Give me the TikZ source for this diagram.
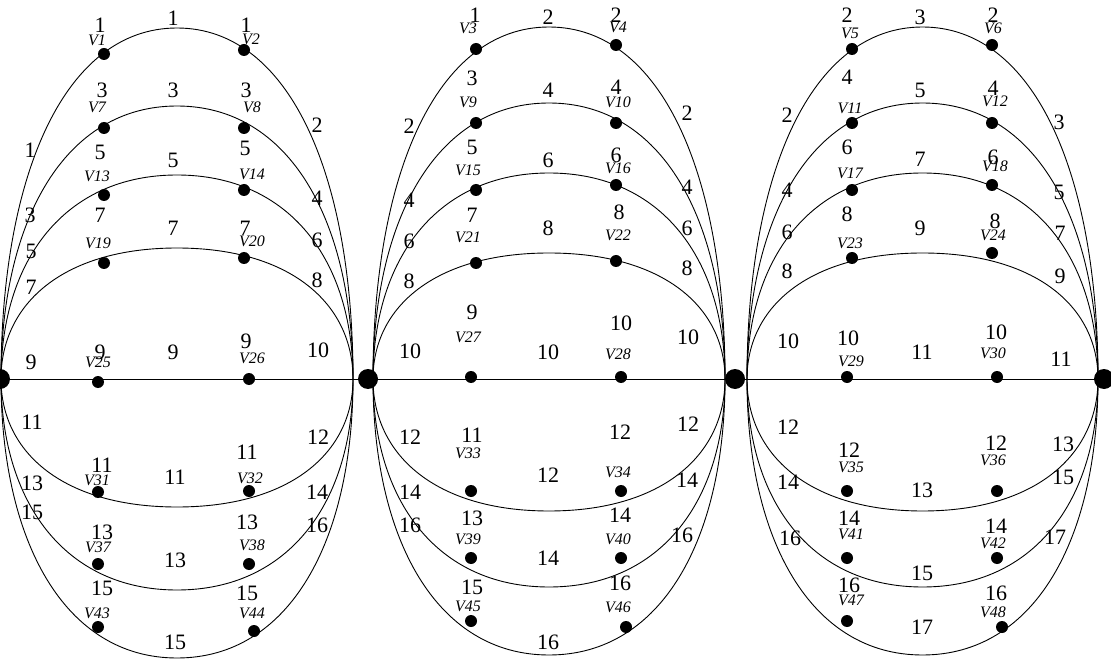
\documentclass[tikz,border=0pt]{standalone}
\usepackage{fontspec}
\setmainfont{Liberation Serif}
\usetikzlibrary{backgrounds}
\newcounter{lbl}
\newcommand{\nl}[3]{\stepcounter{lbl}\node[num] (t\thelbl) at (#1,#2) {#3};}
\newcommand{\vt}[3]{\node[vlab] (lab#3) at (#1,#2) {V#3};}
\newcommand{\vd}[3]{\node[vdot] (V#3) at (#1,#2) {};}
\newcommand{\bowarc}[4]{%
  \pgfmathsetmacro\bwCx{(#2+#3)/2}%
  \pgfmathsetmacro\bwA{(#3-#2)/2}%
  \pgfmathsetmacro\bwH{#4-379}%
  \coordinate (#1L) at (#2,379);%
  \coordinate (#1T) at (\bwCx,#4);%
  \coordinate (#1R) at (#3,379);%
  \draw[edge] (#1L) .. controls +(0,0.58*\bwH) and +(-0.64*\bwA,0) .. (#1T)
     .. controls +(0.64*\bwA,0) and +(0,0.58*\bwH) .. (#1R);}
\tikzset{
  edge/.style={line width=0.9pt},
  hub/.style={circle, fill=black, inner sep=0pt, minimum size=20pt},
  vdot/.style={circle, fill=black, inner sep=0pt, minimum size=12pt},
  num/.style={font=\fontsize{22}{22}\selectfont, inner sep=0pt},
  vlab/.style={font=\itshape\fontsize{16}{16}\selectfont, inner sep=0pt}
}
\begin{document}
\begin{tikzpicture}[x=1pt,y=-1pt]
\useasboundingbox (0,0) rectangle (1111,660);
% hubs
\node[hub] (h0) at (0,379) {};
\node[hub] (h1) at (368,379) {};
\node[hub] (h2) at (735,379) {};
\node[hub] (h3) at (1104,379) {};
% vertices family 1
\vd{104}{54}{1} \vd{244}{50}{2} \vd{104}{128}{7} \vd{244}{128}{8}
\vd{104}{195}{13} \vd{244}{190}{14} \vd{104}{263}{19} \vd{244}{258}{20}
\vd{98}{382}{25} \vd{249}{379}{26} \vd{98}{492}{31} \vd{249}{491}{32}
\vd{98}{564}{37} \vd{249}{564}{38} \vd{98}{627}{43} \vd{254}{631}{44}
% vertices family 2
\vd{476}{49}{3} \vd{616}{45}{4} \vd{476}{123}{9} \vd{616}{123}{10}
\vd{476}{190}{15} \vd{616}{185}{16} \vd{476}{263}{21} \vd{616}{261}{22}
\vd{471}{377}{27} \vd{621}{377}{28} \vd{471}{491}{33} \vd{621}{491}{34}
\vd{471}{558}{39} \vd{621}{558}{40} \vd{471}{621}{45} \vd{626}{627}{46}
% vertices family 3
\vd{852}{49}{5} \vd{992}{45}{6} \vd{852}{123}{11} \vd{992}{123}{12}
\vd{852}{190}{17} \vd{992}{185}{18} \vd{852}{258}{23} \vd{992}{253}{24}
\vd{847}{377}{29} \vd{997}{377}{30} \vd{847}{491}{35} \vd{997}{491}{36}
\vd{847}{558}{41} \vd{997}{558}{42} \vd{847}{621}{47} \vd{1002}{627}{48}
\begin{scope}[on background layer]
  \draw[edge] (h0) -- (h1) -- (h2) -- (h3);
  % family 1
  \bowarc{a1}{1}{353}{28} \bowarc{a2}{1}{353}{106} \bowarc{a3}{1}{353}{175} \bowarc{a4}{1}{353}{248}
  \bowarc{a5}{1}{353}{507} \bowarc{a6}{1}{353}{590} \bowarc{a7}{1}{353}{658}
  % family 2
  \bowarc{b1}{373}{725}{27} \bowarc{b2}{373}{725}{103} \bowarc{b3}{373}{725}{173} \bowarc{b4}{373}{725}{253}
  \bowarc{b5}{373}{725}{511} \bowarc{b6}{373}{725}{587} \bowarc{b7}{373}{725}{655}
  % family 3
  \bowarc{c1}{747}{1098}{27} \bowarc{c2}{747}{1098}{103} \bowarc{c3}{747}{1098}{173} \bowarc{c4}{747}{1098}{253}
  \bowarc{c5}{747}{1098}{511} \bowarc{c6}{747}{1098}{587} \bowarc{c7}{747}{1098}{655}
\end{scope}
% vertex labels family 1
\vt{97}{40}{1} \vt{251}{39}{2} \vt{97}{107}{7} \vt{252}{107}{8}
\vt{97}{176}{13} \vt{252}{174}{14} \vt{98}{243}{19} \vt{252}{241}{20}
\vt{98}{362}{25} \vt{252}{358}{26} \vt{97}{480}{31} \vt{250}{478}{32}
\vt{98}{547}{37} \vt{252}{545}{38} \vt{97}{613}{43} \vt{252}{613}{44}
% vertex labels family 2
\vt{468}{28}{3} \vt{618}{27}{4} \vt{468}{102}{9} \vt{618}{102}{10}
\vt{468}{170}{15} \vt{618}{168}{16} \vt{468}{237}{21} \vt{618}{235}{22}
\vt{468}{337}{27} \vt{618}{354}{28} \vt{468}{453}{33} \vt{618}{472}{34}
\vt{468}{539}{39} \vt{618}{539}{40} \vt{468}{606}{45} \vt{618}{607}{46}
% vertex labels family 3
\vt{850}{33}{5} \vt{993}{28}{6} \vt{850}{108}{11} \vt{995}{101}{12}
\vt{850}{173}{17} \vt{995}{166}{18} \vt{850}{243}{23} \vt{993}{235}{24}
\vt{851}{361}{29} \vt{993}{353}{30} \vt{851}{467}{35} \vt{993}{460}{36}
\vt{851}{534}{41} \vt{993}{543}{42} \vt{851}{600}{47} \vt{993}{612}{48}
% numbers family 1
\nl{173}{18}{1} \nl{100}{25}{1} \nl{246}{25}{1} \nl{317}{125}{2} \nl{30}{150}{1}
\nl{102}{90}{3} \nl{173}{90}{3} \nl{246}{90}{3}
\nl{100}{152}{5} \nl{173}{160}{5} \nl{245}{148}{5} \nl{317}{198}{4}
\nl{30}{215}{3} \nl{100}{215}{7} \nl{173}{228}{7} \nl{245}{228}{7}
\nl{317}{240}{6} \nl{31}{251}{5} \nl{31}{287}{7} \nl{317}{280}{8}
\nl{31}{362}{9} \nl{100}{352}{9} \nl{173}{352}{9} \nl{246}{341}{9} \nl{318}{350}{10}
\nl{32}{422}{11} \nl{318}{437}{12} \nl{102}{465}{11} \nl{175}{477}{11} \nl{247}{452}{11}
\nl{32}{483}{13} \nl{32}{512}{15} \nl{317}{492}{14} \nl{317}{525}{16}
\nl{102}{532}{13} \nl{175}{560}{13} \nl{247}{522}{13}
\nl{102}{588}{15} \nl{247}{593}{15} \nl{175}{642}{15}
% numbers family 2
\nl{475}{15}{1} \nl{548}{17}{2} \nl{616}{15}{2}
\nl{472}{78}{3} \nl{548}{90}{4} \nl{616}{87}{4} \nl{409}{126}{2} \nl{687}{113}{2}
\nl{472}{147}{5} \nl{548}{160}{6} \nl{616}{155}{6} \nl{409}{200}{4} \nl{687}{187}{4}
\nl{472}{215}{7} \nl{548}{228}{8} \nl{619}{212}{8}
\nl{409}{241}{6} \nl{409}{281}{8} \nl{687}{228}{6} \nl{687}{268}{8}
\nl{472}{312}{9} \nl{548}{352}{10} \nl{621}{323}{10} \nl{410}{351}{10} \nl{688}{337}{10}
\nl{410}{437}{12} \nl{472}{435}{11} \nl{620}{432}{12} \nl{688}{424}{12} \nl{548}{475}{12}
\nl{410}{492}{14} \nl{687}{480}{14} \nl{410}{525}{16} \nl{682}{535}{16}
\nl{472}{518}{13} \nl{548}{558}{14} \nl{620}{515}{14}
\nl{472}{587}{15} \nl{620}{583}{16} \nl{548}{642}{16}
% numbers family 3
\nl{847}{15}{2} \nl{920}{17}{3} \nl{993}{15}{2}
\nl{847}{77}{4} \nl{920}{90}{5} \nl{993}{88}{4} \nl{787}{115}{2} \nl{1059}{122}{3}
\nl{847}{147}{6} \nl{920}{159}{7} \nl{993}{157}{6} \nl{787}{190}{4} \nl{1059}{192}{5}
\nl{847}{214}{8} \nl{920}{228}{9} \nl{995}{221}{8}
\nl{787}{232}{6} \nl{787}{271}{8} \nl{1060}{233}{7} \nl{1060}{276}{9}
\nl{788}{341}{10} \nl{848}{338}{10} \nl{922}{352}{11} \nl{996}{332}{10} \nl{1061}{359}{11}
\nl{788}{427}{12} \nl{849}{450}{12} \nl{996}{443}{12} \nl{1063}{444}{13} \nl{1063}{477}{15}
\nl{922}{490}{13} \nl{788}{482}{14} \nl{790}{538}{16}
\nl{849}{518}{14} \nl{996}{526}{14} \nl{1055}{537}{17}
\nl{922}{573}{15} \nl{849}{585}{16} \nl{996}{593}{16} \nl{922}{627}{17}
\end{tikzpicture}
\end{document}
